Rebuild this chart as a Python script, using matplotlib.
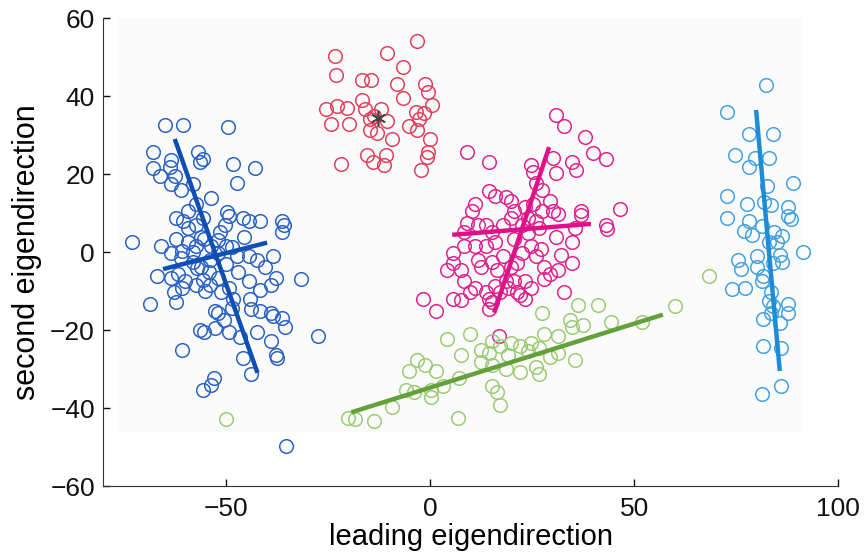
import matplotlib.pyplot as plt
import matplotlib.patches as mpatches

plt.rcParams['font.family'] = ['Liberation Sans', 'DejaVu Sans']

# cluster 1 (dark blue, left)
blue_x = [-64.8, -60.4, -49.5, -67.8, -67.8, -63.4, -63.7, -66.1, -62.3, -56.9, -55.6, -56.4,
          -48.1, -42.8, -47.2, -61.0, -63.4, -58.0, -53.7, -57.3, -59.3, -62.1, -60.4, -59.3,
          -57.3, -55.6, -62.1, -59.3, -57.3, -55.3, -53.7, -51.5, -50.1, -49.6, -49.2, -45.8,
          -44.4, -45.5, -41.7, -36.3, -35.8, -36.3, -72.9, -65.9, -63.4, -60.7, -61.0, -58.0,
          -56.0, -53.9, -51.9, -49.9, -48.5, -47.2, -44.4, -42.4, -40.4, -38.3, -66.8, -63.4,
          -61.8, -60.0, -60.7, -62.7, -62.1, -68.6, -57.3, -55.6, -53.9, -51.9, -51.2, -49.2,
          -48.2, -44.4, -41.7, -39.0, -37.7, -31.6, -52.6, -51.9, -50.5, -48.5, -43.8, -41.7,
          -39.0, -38.3, -36.3, -35.6, -56.4, -55.3, -52.6, -49.1, -46.5, -42.4, -39.0, -60.7,
          -45.8, -37.7, -37.4, -27.5, -43.8, -52.8, -53.7, -55.6, -35.2, -58.0, -56.0, -54.0,
          -50.0, -52.0, -57.0, -55.0, -47.0, -44.0]
blue_y = [32.5, 32.5, 32.1, 25.8, 21.6, 23.7, 21.9, 19.6, 19.6, 25.8, 24.0, 23.1,
          22.6, 21.6, 17.8, 16.0, 17.4, 17.4, 13.8, 12.4, 10.6, 8.8, 8.1, 6.1,
          7.0, 8.8, 3.4, 2.5, 1.6, 3.4, 1.6, 5.2, 7.0, 10.2, 9.3, 8.8,
          7.9, 3.9, 7.9, 7.9, 7.0, 5.2, 2.7, 1.6, -0.2, 0.3, -1.5, -2.4,
          -3.8, -2.0, -0.2, 1.6, 1.2, -1.1, -1.1, -2.0, -3.8, -1.1, -6.0, -6.5,
          -5.6, -7.4, -9.2, -10.1, -12.8, -13.2, -8.5, -7.2, -8.3, -6.5, -10.1, -9.2,
          -12.1, -7.4, -9.6, -8.3, -6.5, -6.9, -15.0, -15.7, -17.3, -14.4, -14.6, -15.0,
          -15.5, -16.4, -16.8, -19.1, -20.0, -20.5, -19.5, -20.5, -21.8, -20.5, -22.7, -25.0,
          -27.2, -26.3, -27.2, -21.6, -31.3, -32.4, -34.0, -35.3, -49.7, 0.0, 4.0, -5.0,
          -3.0, 3.0, -4.0, -10.0, -5.0, -12.0]
blue_ax_x = [[-62.3, -42.4], [-64.8, -40.4]]
blue_ax_y = [[28.5, -30.4], [-4.2, 2.3]]

# cluster 2 (red, top)
red_x = [-23.3, -10.6, -3.1, -23.0, -16.7, -14.5, -6.6, -8.1, -6.5, -1.1, -0.5, 0.5,
         -25.5, -24.1, -19.8, -22.8, -20.3, -16.7, -16.0, -14.6, -13.6, -11.9, -14.6, -13.0,
         -10.6, -9.2, -3.5, -2.7, -1.4, -3.1, 0.0, -0.4, -0.8, -21.7, -15.3, -14.0,
         -10.8, -11.2, -2.2, -5.1]
red_y = [50.3, 51.0, 54.1, 45.5, 44.1, 44.1, 47.6, 43.1, 39.5, 43.1, 41.1, 37.8,
         36.8, 33.0, 33.0, 37.4, 36.9, 39.0, 36.8, 34.2, 35.0, 36.8, 31.4, 30.6,
         33.6, 29.1, 36.0, 34.1, 35.7, 31.4, 29.1, 25.8, 24.3, 22.5, 25.0, 23.1,
         25.0, 22.3, 21.1, 32.4]
red_centre = [-12.8, 34.4]

# cluster 3 (magenta, middle)
mag_x = [30.8, 32.8, 37.9, 39.8, 43.0, 46.6, 43.0, 43.4, 9.1, 14.5, 24.7, 25.3,
         30.1, 34.8, 35.8, 30.8, 26.0, 27.4, 29.4, 30.1, 31.4, 36.9, 36.9, 35.5,
         34.8, 30.8, 32.1, 34.8, 31.4, 32.8, 14.5, 15.9, 18.6, 19.9, 20.6, 23.3,
         25.3, 27.4, 24.0, 26.0, 26.7, 11.1, 10.4, 9.1, 8.4, 11.8, 13.8, 15.2,
         17.9, 19.9, 22.6, 24.0, 20.6, 15.9, 13.8, 11.1, 8.4, 5.7, 4.3, 5.7,
         7.7, 8.4, 11.8, 12.5, 15.2, 16.5, 17.9, 19.9, 21.3, 22.6, 24.7, 26.0,
         27.1, 28.0, 29.4, 28.0, 23.3, 24.7, 21.3, 20.6, 18.6, 17.2, 15.9, 13.8,
         11.1, 9.8, 7.7, 5.7, 15.2, 22.0, 23.3, 19.2, -1.8, 1.4, 14.5, 16.9, 14.5]
mag_y = [35.1, 32.3, 29.5, 25.5, 24.0, 11.2, 7.0, 5.9, 25.8, 23.1, 22.3, 20.5,
         24.1, 23.2, 21.0, 20.4, 17.8, 16.0, 13.2, 10.6, 9.7, 10.6, 9.5, 6.1,
         2.5, 3.9, -0.6, -2.9, -4.7, -10.1, 15.6, 14.4, 14.2, 13.2, 10.6, 11.5,
         12.4, 10.6, 8.8, 7.9, 6.1, 12.4, 10.6, 7.5, 5.2, 7.0, 7.0, 5.2,
         7.0, 8.8, 7.0, 4.8, 3.4, 2.5, 1.6, 1.6, 1.6, -0.2, -4.7, -2.9,
         -4.7, -7.4, -2.0, -3.8, -2.4, -4.7, -1.1, -3.8, -2.9, -0.2, 1.6, -1.1,
         0.7, -3.8, -5.6, -6.9, -7.4, -9.2, -10.1, -7.4, -7.4, -10.1, -8.7, -10.1,
         -9.2, -10.1, -12.3, -11.9, -12.8, -11.0, -11.9, -9.2, -11.9, -15.0, -11.9, -21.4, -14.6]
mag_ax_x = [[29.0, 15.9], [6.0, 38.9]]
mag_ax_y = [[26.4, -15.0], [4.5, 7.2]]

# cluster 4 (green, bottom)
green_x = [68.3, 59.9, 52.0, 27.4, 36.2, 41.2, 34.4, 37.5, 44.3, 34.7, 31.4, 28.0,
           24.7, 22.0, 19.9, 15.2, 9.8, 4.1, 7.7, 12.5, 14.5, 17.2, 19.2, 24.0,
           26.7, 29.4, 31.4, 35.5, 12.5, 15.2, 18.6, 22.0, 26.0, 26.7, -3.1, -1.1,
           -5.1, 1.6, 7.0, -5.8, -3.8, 0.3, 3.3, -9.2, 0.3, 15.2, 16.5, 17.2,
           6.8, -13.6, -20.1, -18.4, -49.9]
green_y = [-6.0, -13.9, -18.0, -15.5, -13.5, -13.5, -17.5, -18.6, -18.0, -19.1, -21.4, -20.9,
           -23.2, -24.1, -23.2, -22.7, -20.9, -22.3, -26.3, -25.0, -25.9, -24.1, -26.3, -25.4,
           -24.5, -26.8, -25.9, -27.7, -28.1, -29.0, -29.9, -30.8, -29.5, -31.3, -27.7, -29.0,
           -30.4, -30.4, -32.2, -35.3, -35.8, -35.3, -34.4, -39.8, -37.1, -34.4, -35.8, -39.1,
           -42.5, -43.2, -42.5, -42.9, -42.9]
green_ax_x = [[-18.7, 56.5]]
green_ax_y = [[-40.9, -16.2]]

# cluster 5 (light blue, right)
cyan_x = [82.2, 72.8, 78.2, 84.0, 74.8, 79.5, 82.9, 78.2, 82.6, 89.0, 72.8, 77.6,
          81.9, 83.6, 87.7, 72.8, 78.2, 87.7, 88.3, 76.9, 78.9, 81.3, 84.3, 86.3,
          84.9, 82.9, 91.3, 80.1, 85.6, 86.3, 75.5, 76.2, 80.1, 84.0, 81.6, 81.3,
          74.0, 77.2, 83.6, 82.9, 84.0, 87.7, 87.7, 83.6, 81.6, 85.6, 81.6, 86.0,
          81.3, 86.0]
cyan_y = [42.8, 36.0, 30.3, 30.3, 25.0, 24.1, 24.1, 21.9, 17.1, 17.8, 14.4, 12.4,
          12.9, 12.0, 11.5, 8.8, 7.9, 9.3, 8.4, 5.4, 4.5, 6.6, 5.2, 4.1,
          2.5, 2.5, 0.0, -0.9, -0.6, -2.4, -2.0, -4.2, -3.8, -2.9, -6.0, -7.4,
          -9.4, -9.2, -10.3, -12.6, -13.7, -13.2, -15.7, -15.7, -17.1, -18.2, -24.1, -24.7,
          -36.4, -34.4]
cyan_ax_x = [[79.9, 85.6]]
cyan_ax_y = [[35.9, -29.9]]

clusters = [
    (blue_x, blue_y, blue_ax_x, blue_ax_y, '#2a62c6', '#0d4fb5'),
    (red_x, red_y, [], [], '#e2405c', '#e2405c'),
    (mag_x, mag_y, mag_ax_x, mag_ax_y, '#e0228e', '#e0108a'),
    (green_x, green_y, green_ax_x, green_ax_y, '#9ccb74', '#64a03c'),
    (cyan_x, cyan_y, cyan_ax_x, cyan_ax_y, '#44a2e2', '#1c8cd8'),
]

fig = plt.figure(figsize=(8.67, 5.53), dpi=100)
ax = fig.add_axes([0.119, 0.121, 0.848, 0.846])

# faint grey scan tint behind most of the plot
ax.add_patch(mpatches.Rectangle((0.02, 0.115), 0.93, 0.885, transform=ax.transAxes,
                                facecolor='#fbfbfb', edgecolor='none', zorder=0))

for xs, ys, lx, ly, c, lc in clusters:
    ax.plot(xs, ys, 'o', mfc='none', mec=c, ms=9.8, mew=1.1, zorder=2)
    for a, b in zip(lx, ly):
        ax.plot(a, b, '-', color=lc, lw=3.2, zorder=3)

ax.plot(red_centre[0], red_centre[1], marker=(6, 2, 0), color='#444444', ms=11, mew=1.2,
        zorder=4)

ax.set_xlim(-80, 100)
ax.set_ylim(-60, 60)
ax.set_xticks([-50, 0, 50, 100])
ax.set_yticks([-60, -40, -20, 0, 20, 40, 60])
ax.tick_params(direction='in', length=5, width=1, labelsize=19, colors='#111111')
ax.tick_params(axis='x', pad=8)
ax.tick_params(axis='y', pad=6)
for s in ['top', 'right']:
    ax.spines[s].set_visible(False)
for s in ['left', 'bottom']:
    ax.spines[s].set_color('#333333')
ax.set_xlabel('leading eigendirection', fontsize=21, labelpad=1)
ax.set_ylabel('second eigendirection', fontsize=22, labelpad=6)

fig.savefig('out.png', dpi=100)
